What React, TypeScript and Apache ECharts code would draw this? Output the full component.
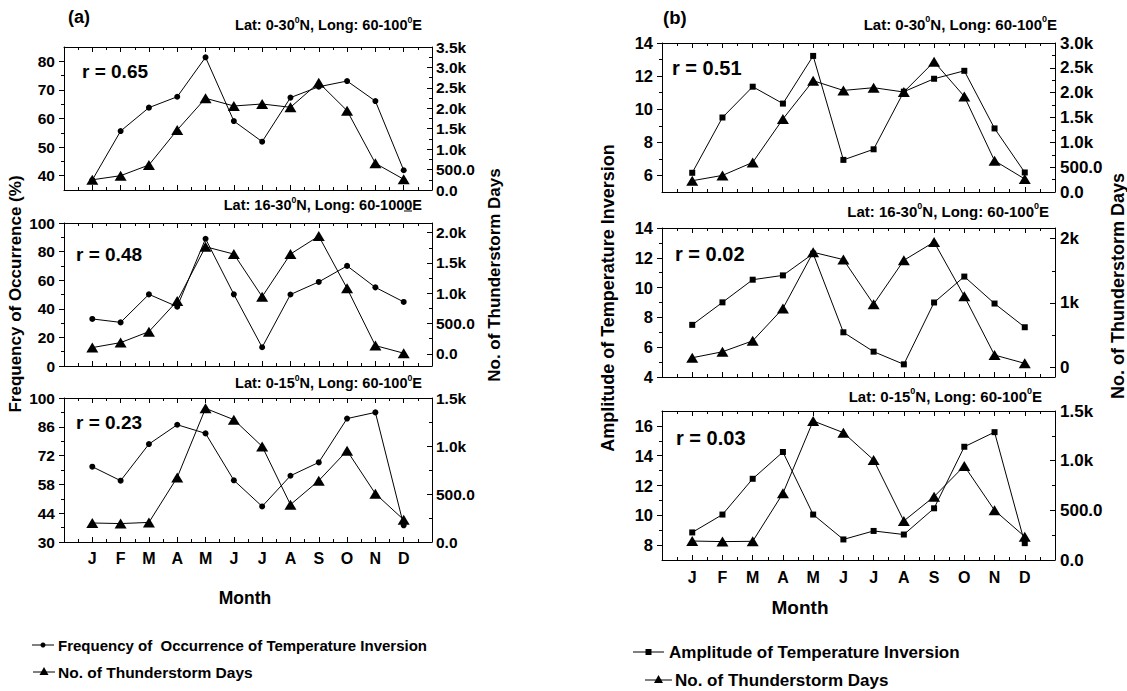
import React, { useEffect, useRef } from "react";
import * as echarts from "echarts";

const FONT = "'Liberation Sans', Arial, Helvetica, sans-serif";

const months = ["J", "F", "M", "A", "M", "J", "J", "A", "S", "O", "N", "D"];

// Panel (a): frequency of occurrence (%) and no. of thunderstorm days
const freqA1 = [38.5, 55.6, 63.8, 67.6, 81.4, 59.1, 51.9, 67.3, 71.1, 73.1, 66.1, 41.9];
const tsA1 = [250, 350, 612, 1469, 2245, 2056, 2105, 2024, 2627, 1942, 653, 262];
const freqA2 = [32.9, 30.5, 50.1, 41.5, 89, 50.1, 13.1, 50, 58.8, 70, 55, 44.8];
const tsA2 = [104, 186, 367, 873, 1768, 1647, 944, 1647, 1944, 1082, 137, 11];
const freqA3 = [66.6, 59.8, 77.6, 87, 82.8, 60, 47.3, 62.2, 68.7, 90, 93, 38.1];
const tsA3 = [198, 192, 204, 673, 1392, 1274, 996, 389, 639, 951, 503, 232];

// Panel (b): amplitude of temperature inversion and no. of thunderstorm days
const ampB1 = [6.16, 9.5, 11.36, 10.34, 13.22, 6.94, 7.58, 11.06, 11.84, 12.32, 8.84, 6.18];
const tsB1 = [227, 334, 596, 1470, 2241, 2045, 2100, 2013, 2623, 1925, 630, 262];
const ampB2 = [7.5, 9.01, 10.53, 10.82, 12.28, 7.0, 5.7, 4.85, 9.0, 10.74, 8.93, 7.34];
const tsB2 = [149, 242, 412, 915, 1788, 1674, 981, 1663, 1947, 1105, 191, 62];
const ampB3 = [8.85, 10.05, 12.45, 14.25, 10.05, 8.38, 8.95, 8.71, 10.47, 14.6, 15.58, 8.13];
const tsB3 = [191, 185, 188, 671, 1400, 1282, 1007, 393, 638, 947, 500, 235];

const rValues = ["r = 0.65", "r = 0.48", "r = 0.23", "r = 0.51", "r = 0.02", "r = 0.03"];

// Tick values
const leftTicksA1 = [40, 50, 60, 70, 80];
const leftMinorA1 = [45, 55, 65, 75];
const rightTicksA1 = [0, 500, 1000, 1500, 2000, 2500, 3000, 3500];
const rightMinorA1 = [250, 750, 1250, 1750, 2250, 2750, 3250];
const leftTicksA2 = [0, 20, 40, 60, 80, 100];
const leftMinorA2 = [10, 30, 50, 70, 90];
const rightTicksA2 = [0, 500, 1000, 1500, 2000];
const rightMinorA2 = [250, 750, 1250, 1750];
const leftTicksA3 = [30, 44, 58, 72, 86, 100];
const leftMinorA3 = [37, 51, 65, 79, 93];
const rightTicksA3 = [0, 500, 1000, 1500];
const rightMinorA3 = [250, 750, 1250];
const leftTicksB1 = [6, 8, 10, 12, 14];
const leftMinorB1 = [7, 9, 11, 13];
const rightTicksB1 = [0, 500, 1000, 1500, 2000, 2500, 3000];
const rightMinorB1 = [250, 750, 1250, 1750, 2250, 2750];
const leftTicksB2 = [4, 6, 8, 10, 12, 14];
const leftMinorB2 = [5, 7, 9, 11, 13];
const rightTicksB2 = [0, 1000, 2000];
const rightMinorB2 = [500, 1500];
const leftTicksB3 = [8, 10, 12, 14, 16];
const leftMinorB3 = [9, 11, 13, 15];
const rightTicksB3 = [0, 500, 1000, 1500];
const rightMinorB3 = [250, 750, 1250];

const fmtK1 = (v: number) => (v >= 1000 ? (v / 1000).toFixed(1) + "k" : v.toFixed(1));
const fmtK0 = (v: number) => (v >= 1000 ? v / 1000 + "k" : String(v));
const fmtN = (v: number) => String(v);

type Panel = {
  grid: { left: number; top: number; width: number; height: number };
  lMin: number; lMax: number; lMajor: number[]; lMinor: number[]; lFmt: (v: number) => string; lFont: number; lMargin: number;
  rMin: number; rMax: number; rMajor: number[]; rMinor: number[]; rFmt: (v: number) => string; rFont: number; rMargin: number;
  s1: number[]; s2: number[]; sym: string; sym1Size: number;
  showMonths: boolean; monthFont: number; monthMargin: number;
};

const panels: Panel[] = [
  { grid: { left: 64, top: 47, width: 368, height: 143 }, lMin: 35, lMax: 85, lMajor: leftTicksA1, lMinor: leftMinorA1, lFmt: fmtN, lFont: 15.5, lMargin: 9,
    rMin: 0, rMax: 3500, rMajor: rightTicksA1, rMinor: rightMinorA1, rFmt: fmtK1, rFont: 15.5, rMargin: 4,
    s1: freqA1, s2: tsA1, sym: "circle", sym1Size: 6, showMonths: false, monthFont: 16, monthMargin: 8 },
  { grid: { left: 64, top: 223, width: 368, height: 143 }, lMin: 0, lMax: 100, lMajor: leftTicksA2, lMinor: leftMinorA2, lFmt: fmtN, lFont: 15.5, lMargin: 9,
    rMin: -200, rMax: 2160, rMajor: rightTicksA2, rMinor: rightMinorA2, rFmt: fmtK1, rFont: 15.5, rMargin: 4,
    s1: freqA2, s2: tsA2, sym: "circle", sym1Size: 6, showMonths: false, monthFont: 16, monthMargin: 8 },
  { grid: { left: 64, top: 398, width: 368, height: 144 }, lMin: 30, lMax: 100, lMajor: leftTicksA3, lMinor: leftMinorA3, lFmt: fmtN, lFont: 15.5, lMargin: 9,
    rMin: 0, rMax: 1500, rMajor: rightTicksA3, rMinor: rightMinorA3, rFmt: fmtK1, rFont: 15.5, rMargin: 4,
    s1: freqA3, s2: tsA3, sym: "circle", sym1Size: 6, showMonths: true, monthFont: 16, monthMargin: 8 },
  { grid: { left: 662, top: 43, width: 393, height: 149 }, lMin: 5, lMax: 14, lMajor: leftTicksB1, lMinor: leftMinorB1, lFmt: fmtN, lFont: 16.5, lMargin: 9,
    rMin: 0, rMax: 3000, rMajor: rightTicksB1, rMinor: rightMinorB1, rFmt: fmtK1, rFont: 17, rMargin: 5,
    s1: ampB1, s2: tsB1, sym: "rect", sym1Size: 6, showMonths: false, monthFont: 16, monthMargin: 9 },
  { grid: { left: 662, top: 228, width: 393, height: 149 }, lMin: 4, lMax: 14, lMajor: leftTicksB2, lMinor: leftMinorB2, lFmt: fmtN, lFont: 16.5, lMargin: 9,
    rMin: -150, rMax: 2165, rMajor: rightTicksB2, rMinor: rightMinorB2, rFmt: fmtK0, rFont: 17, rMargin: 5,
    s1: ampB2, s2: tsB2, sym: "rect", sym1Size: 6, showMonths: false, monthFont: 16, monthMargin: 9 },
  { grid: { left: 662, top: 411, width: 393, height: 149 }, lMin: 7, lMax: 17, lMajor: leftTicksB3, lMinor: leftMinorB3, lFmt: fmtN, lFont: 16.5, lMargin: 9,
    rMin: 0, rMax: 1500, rMajor: rightTicksB3, rMinor: rightMinorB3, rFmt: fmtK1, rFont: 17, rMargin: 5,
    s1: ampB3, s2: tsB3, sym: "rect", sym1Size: 6, showMonths: true, monthFont: 16, monthMargin: 9 },
];

const black = "#000";

function yPair(gi: number, side: "left" | "right", min: number, max: number, major: number[], minor: number[], fmt: (v: number) => string, font: number, margin: number) {
  const inside = side === "right";
  return [
    {
      type: "value", gridIndex: gi, position: side, min, max, offset: 0,
      axisLine: { show: true, onZero: false, lineStyle: { color: black, width: 1 } },
      splitLine: { show: false },
      axisTick: { show: true, inside, length: 5, customValues: major, lineStyle: { color: black, width: 1 } },
      axisLabel: { show: true, customValues: major, formatter: (v: number) => fmt(v), margin, color: black, fontSize: font, fontWeight: "bold", fontFamily: FONT },
    },
    {
      type: "value", gridIndex: gi, position: side, min, max, offset: 0,
      axisLine: { show: false, onZero: false },
      splitLine: { show: false },
      axisTick: { show: true, inside, length: 3, customValues: minor, lineStyle: { color: black, width: 1 } },
      axisLabel: { show: false, customValues: minor },
    },
  ];
}

function supText(parts: string[], size: number) {
  let s = "";
  parts.forEach((p, i) => {
    s += i % 2 === 0 ? `{n|${p}}` : `{s|${p}}`;
  });
  return {
    text: s,
    rich: {
      n: { fontSize: size, fontWeight: "bold", fontFamily: FONT, fill: black, lineHeight: size + 3, verticalAlign: "bottom" },
      s: { fontSize: size * 0.6, fontWeight: "bold", fontFamily: FONT, fill: black, lineHeight: size + 3, verticalAlign: "top", padding: [0, 0, 0, 0] },
    },
  };
}

function buildOption() {
  const grid: any[] = [];
  const xAxis: any[] = [];
  const yAxis: any[] = [];
  const series: any[] = [];
  panels.forEach((p, i) => {
    grid.push({ ...p.grid, containLabel: false });
    const xBase = {
      type: "value", gridIndex: i, min: 0, max: 13, interval: 1,
      axisLine: { show: true, onZero: false, lineStyle: { color: black, width: 1 } },
      axisTick: { show: true, inside: true, length: 5, lineStyle: { color: black, width: 1 } },
      minorTick: { show: true, splitNumber: 2, length: 3, lineStyle: { color: black, width: 1 } },
      splitLine: { show: false },
      minorSplitLine: { show: false },
    };
    xAxis.push({
      ...xBase, position: "bottom",
      axisLabel: {
        show: p.showMonths, margin: p.monthMargin, color: black, fontSize: p.monthFont, fontWeight: "bold", fontFamily: FONT,
        formatter: (v: number) => months[v - 1] ?? "",
      },
    });
    xAxis.push({ ...xBase, position: "top", axisLabel: { show: false } });
    yAxis.push(...yPair(i, "left", p.lMin, p.lMax, p.lMajor, p.lMinor, p.lFmt, p.lFont, p.lMargin));
    yAxis.push(...yPair(i, "right", p.rMin, p.rMax, p.rMajor, p.rMinor, p.rFmt, p.rFont, p.rMargin));
    series.push({
      type: "line", xAxisIndex: 2 * i, yAxisIndex: 4 * i,
      data: p.s1.map((v, k) => [k + 1, v]),
      symbol: p.sym, symbolSize: p.sym1Size, showSymbol: true,
      lineStyle: { color: black, width: 1 }, itemStyle: { color: black }, z: 3,
    });
    series.push({
      type: "line", xAxisIndex: 2 * i, yAxisIndex: 4 * i + 2,
      data: p.s2.map((v, k) => [k + 1, v]),
      symbol: "triangle", symbolSize: [12, 10], showSymbol: true,
      lineStyle: { color: black, width: 1 }, itemStyle: { color: black }, z: 4,
    });
  });

  const graphic: any[] = [];
  const txt = (x: number, y: number, text: string, size: number, align = "left", rotation = 0) => ({
    type: "text", x, y, rotation,
    style: { text, font: `bold ${size}px ${FONT}`, fill: black, align, verticalAlign: "middle" },
  });

  // panel labels
  graphic.push(txt(68, 17, "(a)", 18));
  graphic.push(txt(663, 17, "(b)", 18.5));

  // region titles
  const titles = [
    { x: 422, y: 24, parts: ["Lat: 0-30", "0", "N, Long: 60-100", "0", "E"], size: 14.5 },
    { x: 422, y: 204, parts: ["Lat: 16-30", "0", "N, Long: 60-1000E"], size: 14.5 },
    { x: 422, y: 382, parts: ["Lat: 0-15", "0", "N, Long: 60-100", "0", "E"], size: 14.5 },
    { x: 1057, y: 23, parts: ["Lat: 0-30", "0", "N, Long: 60-100", "0", "E"], size: 15 },
    { x: 1049, y: 210, parts: ["Lat: 16-30", "0", "N, Long: 60-100", "0", "E"], size: 15 },
    { x: 1042, y: 395, parts: ["Lat: 0-15", "0", "N, Long: 60-100", "0", "E"], size: 15 },
  ];
  titles.forEach((t) => {
    const st = supText(t.parts, t.size);
    graphic.push({ type: "text", x: t.x, y: t.y, style: { ...st, align: "right", verticalAlign: "middle" } });
  });
  graphic.push({ type: "line", shape: { x1: 404, y1: 211, x2: 412, y2: 211 }, style: { stroke: black, lineWidth: 1 } });

  // r values
  const rPos = [[82, 71, 19], [76, 254, 19], [76, 422, 19], [672, 68, 20], [675, 254, 20], [676, 438, 20]];
  rValues.forEach((r, i) => graphic.push(txt(rPos[i][0], rPos[i][1], r, rPos[i][2])));

  // axis titles
  graphic.push(txt(15, 294, "Frequency of Occurrence (%)", 17, "center", Math.PI / 2));
  graphic.push(txt(494, 275, "No. of Thunderstorm Days", 17, "center", Math.PI / 2));
  graphic.push(txt(608, 298, "Amplitude of Temperature Inversion", 18, "center", Math.PI / 2));
  graphic.push(txt(1118, 286, "No. of Thunderstorm Days", 18, "center", Math.PI / 2));
  graphic.push(txt(245, 598, "Month", 17.5, "center"));
  graphic.push(txt(800, 607, "Month", 19, "center"));

  // legends
  const legendLine = (x1: number, x2: number, y: number) => ({ type: "line", shape: { x1, y1: y, x2, y2: y }, style: { stroke: black, lineWidth: 1 } });
  const tri = (cx: number, cy: number, w: number, h: number) => ({
    type: "polygon", shape: { points: [[cx, cy - h / 2], [cx - w / 2, cy + h / 2], [cx + w / 2, cy + h / 2]] }, style: { fill: black },
  });
  // left legend
  graphic.push(legendLine(32, 54, 645));
  graphic.push({ type: "circle", shape: { cx: 43, cy: 645, r: 2.5 }, style: { fill: black } });
  graphic.push(txt(58, 645, "Frequency of  Occurrence of Temperature Inversion", 15));
  graphic.push(legendLine(33, 55, 672));
  graphic.push(tri(44, 671, 9, 8));
  graphic.push(txt(58, 672, "No. of Thunderstorm Days", 15.5));
  // right legend
  graphic.push(legendLine(633, 664, 652));
  graphic.push({ type: "rect", shape: { x: 645.5, y: 649, width: 6, height: 6 }, style: { fill: black } });
  graphic.push(txt(669, 652, "Amplitude of Temperature Inversion", 17));
  graphic.push(legendLine(645, 672, 680));
  graphic.push(tri(658.5, 679, 9, 8));
  graphic.push(txt(675, 680, "No. of Thunderstorm Days", 17));

  return {
    animation: false,
    backgroundColor: "#fff",
    grid, xAxis, yAxis, series, graphic,
  };
}

export default function App() {
  const ref = useRef<HTMLDivElement>(null);
  useEffect(() => {
    const chart = echarts.init(ref.current!, null, { renderer: "svg" });
    chart.setOption(buildOption() as any);
    return () => chart.dispose();
  }, []);
  return (
    <div
      ref={ref}
      style={{ position: "fixed", left: 0, top: 0, width: 1127, height: 691, background: "#fff" }}
    />
  );
}
